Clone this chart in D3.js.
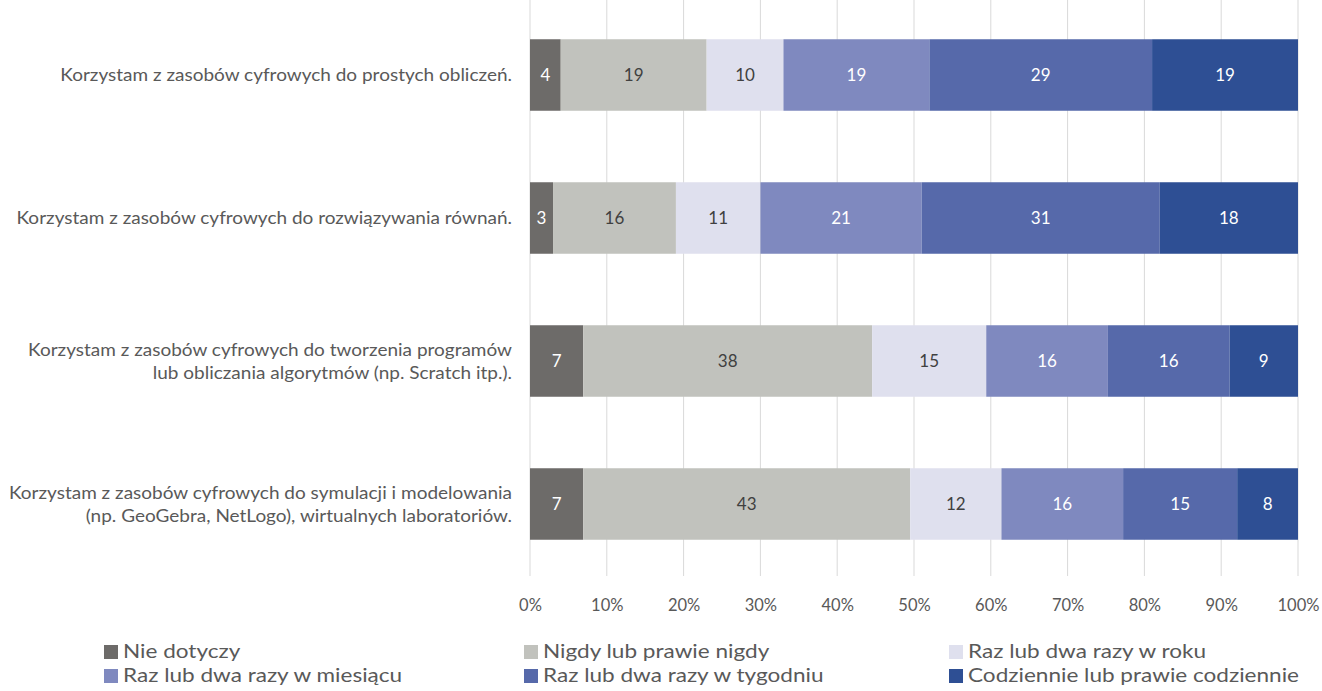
<!DOCTYPE html>
<html>
<head>
<meta charset="utf-8">
<script src="https://cdn.jsdelivr.net/npm/d3@7"></script>
<style>
  body { margin: 0; background: #fff; }
  svg { font-family: Lato, "Open Sans", sans-serif; }
</style>
</head>
<body>
<svg id="chart" width="1322" height="691"></svg>
<script>
// categories (top to bottom)
var categories = [
    ['Korzystam z zasobów cyfrowych do prostych obliczeń.'],
    ['Korzystam z zasobów cyfrowych do rozwiązywania równań.'],
    ['Korzystam z zasobów cyfrowych do tworzenia programów', 'lub obliczania algorytmów (np. Scratch itp.).'],
    ['Korzystam z zasobów cyfrowych do symulacji i modelowania', '(np. GeoGebra, NetLogo), wirtualnych laboratoriów.']
];

// series names
var seriesNames = [
    'Nie dotyczy',
    'Nigdy lub prawie nigdy',
    'Raz lub dwa razy w roku',
    'Raz lub dwa razy w miesiącu',
    'Raz lub dwa razy w tygodniu',
    'Codziennie lub prawie codziennie'
];

// values per series, one per category
var nieDotyczy = [4, 3, 7, 7];
var nigdy = [19, 16, 38, 43];
var wRoku = [10, 11, 15, 12];
var wMiesiacu = [19, 21, 16, 16];
var wTygodniu = [29, 31, 16, 15];
var codziennie = [19, 18, 9, 8];

var ticks = [0, 0.1, 0.2, 0.3, 0.4, 0.5, 0.6, 0.7, 0.8, 0.9, 1];

var colors = ['#6d6b69', '#c1c2bd', '#dfe0ee', '#7f89bf', '#5669aa', '#2e4f94'];
var labelColors = ['#ffffff', '#404040', '#404040', '#ffffff', '#ffffff', '#ffffff'];

var seriesValues = [nieDotyczy, nigdy, wRoku, wMiesiacu, wTygodniu, codziennie];

// build rows for stacking (normalized to 100%)
var rows = categories.map(function(c, i){
    var row = {idx: i};
    var total = 0;
    seriesValues.forEach(function(s){ total += s[i]; });
    seriesValues.forEach(function(s, k){ row['s' + k] = s[i] / total; row['v' + k] = s[i]; });
    return row;
});

var keys = seriesNames.map(function(_, k){ return 's' + k; });
var stacked = d3.stack().keys(keys)(rows);

var svg = d3.select('#chart');

var x = d3.scaleLinear().domain([0, 1]).range([530, 1298]);
var y = d3.scaleBand().domain(d3.range(categories.length)).range([3.5, 575.5]).paddingInner(0.5).paddingOuter(0.25);

// gridlines
svg.append('g')
    .selectAll('line')
    .data(ticks)
    .enter().append('line')
        .attr('x1', function(d){ return x(d); })
        .attr('x2', function(d){ return x(d); })
        .attr('y1', 0)
        .attr('y2', 576)
        .attr('stroke', '#d9d9d9')
        .attr('stroke-width', 1);

// bars
var layers = svg.append('g')
    .selectAll('g')
    .data(stacked)
    .enter().append('g')
        .attr('fill', function(d, i){ return colors[i]; });

layers.selectAll('rect')
    .data(function(d){ return d; })
    .enter().append('rect')
        .attr('x', function(d){ return x(d[0]); })
        .attr('width', function(d){ return x(d[1]) - x(d[0]); })
        .attr('y', function(d){ return y(d.data.idx); })
        .attr('height', y.bandwidth());

// value labels
stacked.forEach(function(layer, k){
    svg.append('g')
        .selectAll('text')
        .data(layer)
        .enter().append('text')
            .attr('x', function(d){ return (x(d[0]) + x(d[1])) / 2; })
            .attr('y', function(d){ return y(d.data.idx) + y.bandwidth() / 2; })
            .attr('dy', '0.35em')
            .attr('text-anchor', 'middle')
            .attr('font-size', 17)
            .attr('fill', labelColors[k])
            .text(function(d){ return d.data['v' + k]; });
});

// x axis labels
var xAxis = svg.append('g')
    .attr('transform', 'translate(0,605)')
    .call(d3.axisBottom(x).tickValues(ticks).tickFormat(d3.format('.0%')).tickSize(0));
xAxis.select('.domain').remove();
xAxis.selectAll('text')
    .attr('font-family', 'Lato, "Open Sans", sans-serif')
    .attr('font-size', 16.5)
    .attr('fill', '#595959')
    .attr('dy', '0.35em')
    .attr('y', 0);

// category labels
var catLabels = svg.append('g')
    .selectAll('text')
    .data(categories)
    .enter().append('text')
        .attr('transform', function(d, i){
            return 'translate(512,' + (y(i) + y.bandwidth() / 2 - (d.length - 1) * 11.5) + ') scale(1.055,1)';
        })
        .attr('text-anchor', 'end')
        .attr('font-size', 18)
        .attr('fill', '#595959');

catLabels.each(function(d){
    var t = d3.select(this);
    d.forEach(function(line, j){
        t.append('tspan')
            .attr('x', 0)
            .attr('dy', j == 0 ? '0.35em' : 23)
            .text(line);
    });
});

// legend
var legendCols = [104, 524, 949];
var legend = svg.append('g')
    .selectAll('g')
    .data(seriesNames)
    .enter().append('g')
        .attr('transform', function(d, i){
            return 'translate(' + legendCols[i % 3] + ',' + (652 + Math.floor(i / 3) * 24) + ')';
        });

legend.append('rect')
    .attr('x', 0)
    .attr('y', -7)
    .attr('width', 14)
    .attr('height', 14)
    .attr('fill', function(d, i){ return colors[i]; });

legend.append('text')
    .attr('transform', 'translate(19,0) scale(1.22,1)')
    .attr('dy', '0.35em')
    .attr('font-size', 18.5)
    .attr('fill', '#595959')
    .text(function(d){ return d; });
</script>
</body>
</html>
